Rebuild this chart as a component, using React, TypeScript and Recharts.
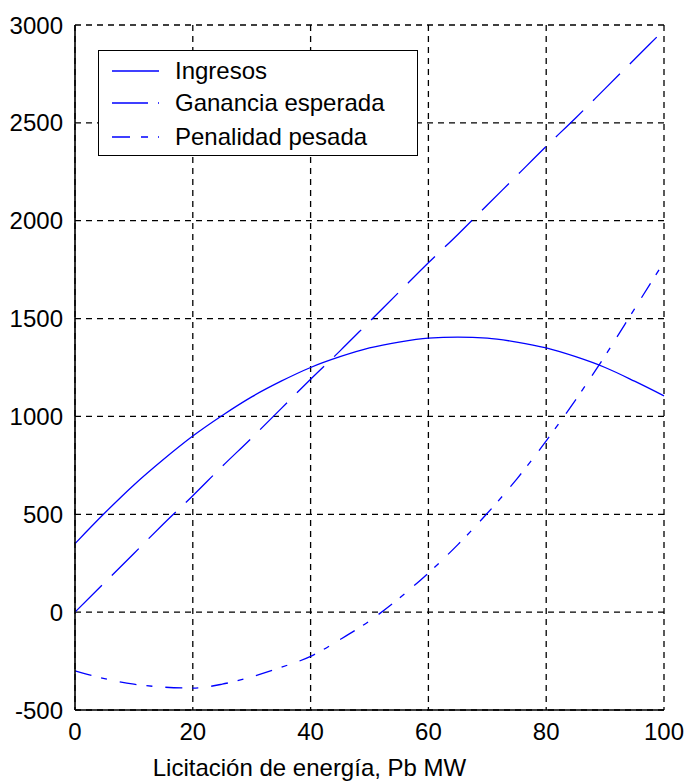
import React from "react";
import { LineChart, Line, XAxis, YAxis, CartesianGrid } from "recharts";

const pb = [0, 5, 10, 15, 20, 25, 30, 35, 40, 45, 50, 55, 60, 65, 70, 75, 80, 85, 90, 95, 100];
const ingresos = [350, 505, 650, 780, 900, 1005, 1100, 1180, 1250, 1305, 1350, 1380, 1400, 1405, 1400, 1380, 1350, 1305, 1250, 1180, 1105];
const ganancia = [0, 150, 300, 450, 595, 745, 890, 1040, 1190, 1335, 1485, 1635, 1785, 1930, 2080, 2230, 2380, 2525, 2675, 2825, 2975];
const penalidad = [-300, -340, -368, -383, -388, -368, -330, -282, -226, -140, -45, 70, 200, 345, 505, 680, 875, 1085, 1310, 1550, 1790];

const xTicks = [0, 20, 40, 60, 80, 100];
const yTicks = [-500, 0, 500, 1000, 1500, 2000, 2500, 3000];

const seriesNames = ["Ingresos", "Ganancia esperada", "Penalidad pesada"];
const dashes = ["", "38 14", "17 10 6 13"];
const legendDashes = ["", "36 10", "18 11 7 10"];

const data = pb.map((x, i) => ({
  x,
  ingresos: ingresos[i],
  ganancia: ganancia[i],
  penalidad: penalidad[i],
}));

const font = "'Liberation Sans', Arial, sans-serif";
const blue = "#0000ff";

const LegendBox = () => (
  <div
    style={{
      position: "absolute",
      left: 98,
      top: 50,
      width: 318,
      height: 104,
      border: "1.5px solid #000",
      background: "#fff",
      fontFamily: font,
      fontSize: 24,
      color: "#000",
    }}
  >
    {seriesNames.map((name, i) => (
      <div
        key={name}
        style={{ position: "absolute", left: 0, top: [20, 52, 86][i] - 15, height: 30, display: "flex", alignItems: "center" }}
      >
        <svg width={76} height={30}>
          <line x1={13} x2={60} y1={15} y2={15} stroke={blue} strokeWidth={1.5} strokeDasharray={legendDashes[i]} />
        </svg>
        <span style={{ lineHeight: "30px" }}>{name}</span>
      </div>
    ))}
  </div>
);

export default function App() {
  return (
    <div style={{ position: "absolute", left: 0, top: 0, width: 686, height: 782, background: "#fff" }}>
      <LineChart width={686} height={782} data={data} margin={{ top: 25, right: 22, bottom: 0, left: 5 }}>
        <CartesianGrid stroke="#000" strokeWidth={1.3} strokeDasharray="6 5" />
        <XAxis
          dataKey="x"
          type="number"
          domain={[0, 100]}
          ticks={xTicks}
          height={72}
          tickLine={false}
          tickSize={0}
          tickMargin={13}
          axisLine={{ stroke: "#000", strokeWidth: 1.6 }}
          tick={{ fill: "#000", fontSize: 24, fontFamily: font }}
          label={{
            value: "Licitación de energía, Pb MW",
            position: "insideBottom",
            offset: 6,
            dx: -60,
            fill: "#000",
            fontSize: 24,
            fontFamily: font,
          }}
        />
        <YAxis
          type="number"
          domain={[-500, 3000]}
          ticks={yTicks}
          width={70}
          tickLine={false}
          tickSize={0}
          tickMargin={12}
          axisLine={{ stroke: "#000", strokeWidth: 1.6 }}
          tick={{ fill: "#000", fontSize: 24, fontFamily: font }}
        />
        <Line type="monotone" dataKey="ingresos" name={seriesNames[0]} stroke={blue} strokeWidth={1.3} dot={false} isAnimationActive={false} />
        <Line type="monotone" dataKey="ganancia" name={seriesNames[1]} stroke={blue} strokeWidth={1.3} strokeDasharray={dashes[1]} dot={false} isAnimationActive={false} />
        <Line type="monotone" dataKey="penalidad" name={seriesNames[2]} stroke={blue} strokeWidth={1.3} strokeDasharray={dashes[2]} dot={false} isAnimationActive={false} />
      </LineChart>
      <LegendBox />
    </div>
  );
}
